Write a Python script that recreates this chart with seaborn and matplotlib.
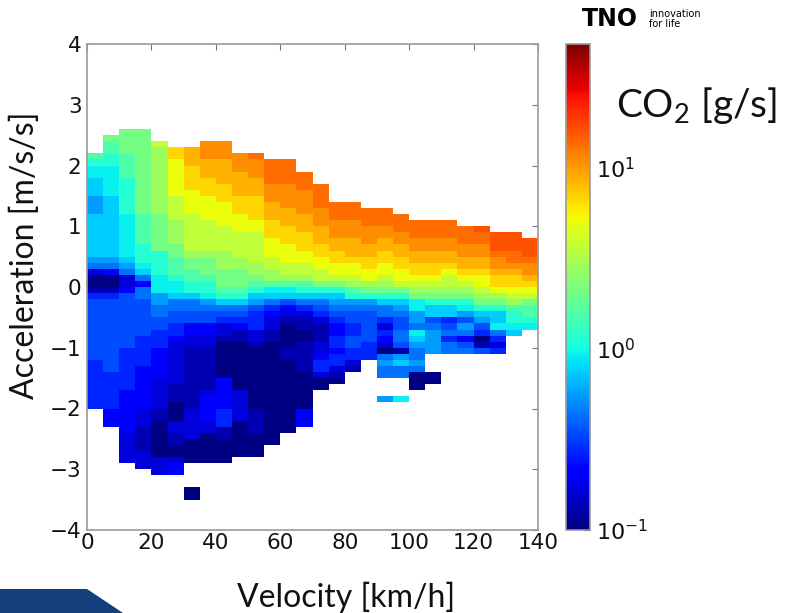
import numpy as np
import pandas as pd
import matplotlib
matplotlib.use("Agg")
import matplotlib.pyplot as plt
from matplotlib.colors import LogNorm
from matplotlib.patches import Polygon
from matplotlib.ticker import NullLocator
import seaborn as sns

# ---------------- data ----------------
velocity_bins = [0, 5, 10, 15, 20, 25, 30, 35, 40, 45, 50, 55, 60, 65,
                 70, 75, 80, 85, 90, 95, 100, 105, 110, 115, 120, 125, 130, 135]
velocity_ticks = [0, 20, 40, 60, 80, 100, 120, 140]
accel_ticks = [-4, -3, -2, -1, 0, 1, 2, 3, 4]
colorbar_ticks = [0.1, 1, 10]

# colour level codes -> CO2 [g/s]
level_codes = "0123456789abcdefghijkl"
level_values = [0.104, 0.131, 0.165, 0.204, 0.273, 0.344, 0.434, 0.565, 0.746,
                0.927, 1.16, 1.55, 2.07, 2.75, 3.61, 5.07, 6.70, 8.58, 11.0,
                13.5, 16.0, 22.8]

# one string per 5 km/h velocity bin; each character is one 0.1 m/s2 row,
# from the row [2.5, 2.6] down to [-3.5, -3.4]; '.' = no data
accel_first_row_top = 2.6
co2_columns = [
    "....ba9988 8777888888 8762001455 5555555544 444444.... .......... .",
    ".cbbaa9999 9888888888 8763001455 5555555555 444444333. .......... .",
    "ccccbbbbaa aaaa999999 9876223555 5555554444 4443333333 22222..... .",
    "cccccccccc ccccbbbbba aa98636655 5555444443 3333332221 111222.... .",
    "..eddddddd ddddcccccc aaaa999776 6554443333 3222221100 0000222... .",
    "...ggfffff feeeeddddc cbbba99866 5544322222 2211100022 1100233... .",
    "...hhhgggg ffffeeeeee dccbbaa866 5533221111 1111112222 20000....0 0",
    "..iiihhhgg gffffeeeee dcccbaa976 5533221111 1112333322 00000..... .",
    "..iiihhhhg ggffffeeee dddcccba86 5422100000 0333334441 10000..... .",
    "....iiihhh hgggfffeee eddcccba86 5431100000 0002222200 0000...... .",
    "....jiiihh hggggffeee eeddcba875 4442210000 0000001111 0000...... .",
    ".....jjjji iihhhgggff feeddb9864 3221100000 0000000000 00........ .",
    ".....jjjji iiihhhgggf ffeedb9853 2100001100 0000000000 .......... .",
    ".......jjj iiiihhhggg ffeedba864 2110011111 000000333. .......... .",
    ".........j jjjiiihhhg gffeeca865 4211122344 200....... .......... .",
    ".......... ..jjjiiihh ggffeca876 5433443442 10........ .......... .",
    ".......... ..jjjiiihh hgffedba76 5544554421 .......... .......... .",
    ".......... ...jjjiiih hggffdca76 55555444.. .......... .......... .",
    ".......... ...jjjiihh ggffedca86 6424320676 6...7..... .......... .",
    ".......... ....jjjiih hggffeca87 6556651786 6...9..... .......... .",
    ".......... .....jjjii hhggfedc99 7769876676 000....... .......... .",
    ".......... .....jjjii hhggfedca8 8567777... 00........ .......... .",
    ".......... .....jjjii hhgfeedca8 8456466... .......... .......... .",
    ".......... ......jjji ihhgfedca9 7576356... .......... .......... .",
    ".......... ......kjji ihhgffedca 8754015... .......... .......... .",
    ".......... .......kkk jiihggfdca 8896424... .......... .......... .",
    ".......... .......kkk jjihggfedb aa98...... .......... .......... .",
    ".......... ........kk kjiihgfecb ba9....... .......... .......... .",
]

# ---------------- build the grid (rows: 4.0 .. -4.0 in 0.1 steps) ----------------
n_rows = 80
row_labels = [round(4.0 - 0.1 * (i + 0.5), 2) for i in range(n_rows)]
grid = np.full((n_rows, len(velocity_bins)), np.nan)
offset = int(round((4.0 - accel_first_row_top) / 0.1))
for j, col in enumerate(co2_columns):
    codes = col.replace(" ", "")
    for i, ch in enumerate(codes):
        if ch != ".":
            grid[offset + i, j] = level_values[level_codes.index(ch)]
df = pd.DataFrame(grid, index=row_labels, columns=velocity_bins)

# ---------------- figure ----------------
sns.set_style("white")
plt.rcParams["font.family"] = ["DejaVu Sans"]
plt.rcParams["mathtext.default"] = "regular"

fig = plt.figure(figsize=(7.87, 6.13), dpi=100)
ax = fig.add_axes([87 / 787, 83 / 613, 451 / 787, 486 / 613])
cax = fig.add_axes([566 / 787, 83 / 613, 24 / 787, 486 / 613])

sns.heatmap(df, ax=ax, cbar_ax=cax, cmap="jet",
            norm=LogNorm(vmin=0.1, vmax=48),
            xticklabels=False, yticklabels=False, linewidths=0)

# axis ticks in data units mapped onto heatmap cell coordinates
ax.set_xticks([v / 5 for v in velocity_ticks])
ax.set_xticklabels([str(v) for v in velocity_ticks])
ax.set_yticks([(4 - a) * 10 for a in accel_ticks])
ax.set_yticklabels([str(a).replace("-", "\u2212") for a in accel_ticks],
                   rotation=0)
ax.set_xlim(0, 28)
ax.set_ylim(80, 0)
ax.set_xlabel("")
ax.set_ylabel("")
ax.tick_params(axis="both", direction="in", top=True, right=True,
               length=4, width=0.8, color="#777777", labelsize=15.5,
               labelcolor="#111111")
ax.tick_params(axis="x", pad=2)
ax.tick_params(axis="y", pad=4)
for s in ax.spines.values():
    s.set_visible(True)
    s.set_color("#999999")
    s.set_linewidth(1.2)

cb = ax.collections[0].colorbar
cb.set_ticks(colorbar_ticks)
cb.ax.yaxis.set_minor_locator(NullLocator())
cb.ax.tick_params(direction="in", length=4, color="#555555", labelsize=16,
                  labelcolor="#111111", pad=4)
cb.outline.set_visible(True)
cb.outline.set_linewidth(1.2)
cb.outline.set_edgecolor("#999999")

# slide texts
fig.text(25 / 787, 1 - 255 / 613, "Acceleration [m/s/s]", rotation=90,
         ha="center", va="center", fontsize=23, family=["Lato", "DejaVu Sans"],
         color="#111111")
fig.text(346 / 787, 1 - 597 / 613, "Velocity [km/h]", ha="center",
         va="center", fontsize=23, family=["Lato", "DejaVu Sans"],
         color="#111111")
fig.text(697 / 787, 1 - 105 / 613, "CO$_2$ [g/s]", ha="center", va="center",
         fontsize=28, family=["Lato", "DejaVu Sans"], color="#111111")

# TNO logo
fig.text(582 / 787, 1 - 19 / 613, "TNO", ha="left", va="center",
         fontsize=17, fontweight="black", family="DejaVu Sans", color="black")
fig.text(649 / 787, 1 - 14 / 613, "innovation", ha="left", va="center",
         fontsize=7, family="DejaVu Sans", color="black")
fig.text(649 / 787, 1 - 24 / 613, "for life", ha="left", va="center",
         fontsize=7, family="DejaVu Sans", color="black")

# slide decoration, bottom left
fig.patches.append(Polygon([[0, 0], [0, 24 / 613], [87 / 787, 24 / 613],
                            [123 / 787, 0]], closed=True,
                           transform=fig.transFigure, facecolor="#133f7a",
                           edgecolor="none"))

fig.savefig("out.png", dpi=100)
